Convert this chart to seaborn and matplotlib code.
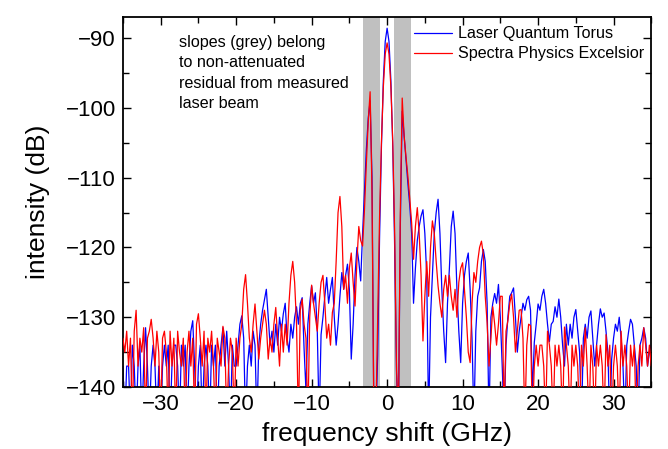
import numpy as np
import pandas as pd
import matplotlib
matplotlib.use("Agg")
import matplotlib.pyplot as plt
from matplotlib.ticker import MultipleLocator
import seaborn as sns

# frequency grid of the spectra (GHz), 0.25 GHz sampling
freq = np.arange(-35.0, 35.0 + 0.001, 0.25)

# Laser Quantum Torus (dB), 20 values per 5 GHz
torus = [
    -137, -145, -137, -137, -145, -134, -137, -145, -137, -134, -145, -137, -131.5, -137, -145, -137, -134, -137, -145, -137,
    -145, -137, -134, -137, -134, -145, -137, -134, -134, -137, -145, -134, -137, -134, -145, -137, -132, -130.5, -137, -145,
    -137, -134, -145, -137, -134, -137, -145, -134, -137, -134, -145, -137, -134, -131.5, -137, -132, -137, -145, -134, -137,
    -137, -134, -131, -129.8, -133, -145, -137, -134, -137, -132, -134, -145, -134, -131, -129, -127.5, -126, -130, -134, -132,
    -135, -131, -134, -130, -132, -129.5, -128, -133, -135, -131, -133, -130, -128.5, -131, -128, -127.2, -134.5, -140.5, -131, -128,
    -125.5, -128, -126.5, -132, -145, -132.5, -130, -127, -124.3, -128, -126, -124.3, -130, -134, -131, -127, -123.6, -126, -124, -122.4,
    -126, -136, -131, -124, -120, -122, -124.8, -118, -112, -106, -101.5, -99, -110, -145, -145, -135.5, -118.6, -105.5, -96.1, -90.5,
    -88.6, -90.5, -96.1, -105.5, -120, -138, -145, -117, -100.5, -104, -107.5, -110.8, -114, -118, -128, -123, -119, -117, -115.5, -114.6,
    -118, -124, -145, -130, -124, -118, -115, -113.1, -118, -126, -132, -136.5, -128, -123, -117, -114.8, -118, -126, -132, -136.5,
    -128, -124, -122, -120.8, -126, -133, -145, -132, -127, -125.8, -122, -120.3, -122, -128, -145, -130, -128, -126.6, -128, -125.3,
    -130, -137, -145, -134, -130, -127, -126.5, -125.8, -130, -135, -132, -130, -128, -129, -127.5, -127, -129, -141, -133.6, -131,
    -128.1, -129, -127, -126, -128, -131, -133.5, -131, -130.6, -128.5, -130, -127.4, -130, -134, -137, -131, -134, -131, -133, -130,
    -128.9, -132, -135, -145, -133, -131, -133, -130, -129.1, -133, -137, -134, -131, -128.8, -130, -129.4, -132, -135, -145, -136,
    -133, -131, -132, -130, -133, -137, -145, -134, -132, -130.3, -131, -134, -137, -145, -134, -133, -131.5, -133, -137, -135,
    -134,
]

# Spectra Physics Excelsior (dB)
excelsior = [
    -133, -135, -132, -137, -133, -145, -132, -129, -137, -133, -135, -131.5, -145, -133, -132, -130.3, -133, -137, -132, -135,
    -145, -133, -132, -135, -145, -132, -137, -133, -145, -132, -135, -137, -133, -145, -135, -132, -137, -133, -145, -131,
    -129.5, -133, -137, -132, -145, -133, -135, -132, -137, -145, -133, -135, -137, -131.3, -133, -145, -137, -133, -135, -145,
    -133, -137, -133, -131, -126, -123.9, -128, -133, -135, -131, -128.1, -132, -136, -133, -131, -129, -131, -136, -133, -135,
    -131, -128.6, -133, -137, -131, -135, -131, -134, -128, -124, -122, -125, -131, -145, -129, -127.4, -131, -133, -145, -130,
    -125.4, -128, -130, -132, -128, -125, -124, -128, -133, -131, -134, -129.3, -128, -122, -115, -112.7, -117, -126, -124, -128,
    -123, -120.8, -125, -128.4, -122, -117, -119, -119.8, -114.6, -108, -102, -97.7, -112, -145, -145, -130, -115.7, -104.8, -97, -92.3,
    -90.7, -92.3, -97, -104.8, -118, -137.5, -145, -115, -98.6, -104, -107, -109.8, -113, -116.5, -121.7, -117, -114.3, -118, -124, -133.4,
    -127, -122, -127, -120, -116.2, -118, -122, -125.5, -128, -130, -126, -124, -127, -124, -127, -129, -126, -130, -125, -123,
    -122.2, -126, -130, -135, -136.5, -128, -123.6, -125, -122, -120, -119.1, -121, -127, -130.8, -137, -133, -128.5, -131, -134, -131,
    -127, -127, -145, -132, -130.5, -128, -126.7, -130, -135, -132, -129, -128.9, -133, -145, -134, -131, -131.2, -145, -137, -134,
    -137, -134, -134, -137, -145, -132, -134, -137, -145, -134, -137, -134, -137, -145, -131.4, -134, -137, -145, -134, -137,
    -134, -137, -145, -134, -137, -131.5, -137, -145, -134, -137, -145, -134, -137, -134, -137, -145, -132.5, -137, -134, -145,
    -137, -134, -137, -145, -132, -137, -134, -137, -145, -134, -137, -134, -145, -137, -134, -137, -131.5, -134, -137, -134,
    -137,
]

# grey slope regions (GHz)
slope_bands = [(-3.2, -0.9), (0.9, 3.2)]

df = pd.DataFrame({"freq": freq, "Laser Quantum Torus": torus,
                   "Spectra Physics Excelsior": excelsior})

sns.set_style("ticks")
plt.rcParams['font.family'] = ['Liberation Sans', 'DejaVu Sans']
plt.rcParams.update({'text.color': 'black', 'axes.labelcolor': 'black',
                     'xtick.color': 'black', 'ytick.color': 'black',
                     'axes.edgecolor': 'black'})

fig, ax = plt.subplots(figsize=(6.68, 4.49), dpi=100)
fig.subplots_adjust(left=0.184, right=0.975, bottom=0.138, top=0.962)

for lo, hi in slope_bands:
    ax.axvspan(lo, hi, color='#c0c0c0', lw=0, zorder=0)

sns.lineplot(data=df, x="freq", y="Laser Quantum Torus", color='blue', lw=0.9,
             label="Laser Quantum Torus", ax=ax, zorder=2)
sns.lineplot(data=df, x="freq", y="Spectra Physics Excelsior", color='red', lw=0.9,
             label="Spectra Physics Excelsior", ax=ax, zorder=3)

ax.set_xlim(-35, 35)
ax.set_ylim(-140, -87)
ax.xaxis.set_major_locator(MultipleLocator(10))
ax.xaxis.set_minor_locator(MultipleLocator(5))
ax.yaxis.set_major_locator(MultipleLocator(10))
ax.yaxis.set_minor_locator(MultipleLocator(5))
ax.tick_params(which='both', direction='in', top=True, right=True, width=1,
               labeltop=False, labelright=False, labelsize=16, pad=5)
ax.tick_params(which='major', length=6)
ax.tick_params(which='minor', length=4)
for s in ax.spines.values():
    s.set_linewidth(1.3)

ax.set_xlabel("frequency shift (GHz)", fontsize=19, labelpad=5)
ax.set_ylabel("intensity (dB)", fontsize=19, labelpad=11)

ax.text(0.107, 0.952, "slopes (grey) belong\nto non-attenuated\nresidual from measured\nlaser beam",
        transform=ax.transAxes, fontsize=11.6, va='top', ha='left', linespacing=1.45)

ax.legend(loc='upper left', bbox_to_anchor=(0.55, 0.975), frameon=False, fontsize=11.6,
          handlelength=2.4, handletextpad=0.35, labelspacing=0.3, borderpad=0,
          borderaxespad=0)

fig.savefig("out.png", dpi=100)
